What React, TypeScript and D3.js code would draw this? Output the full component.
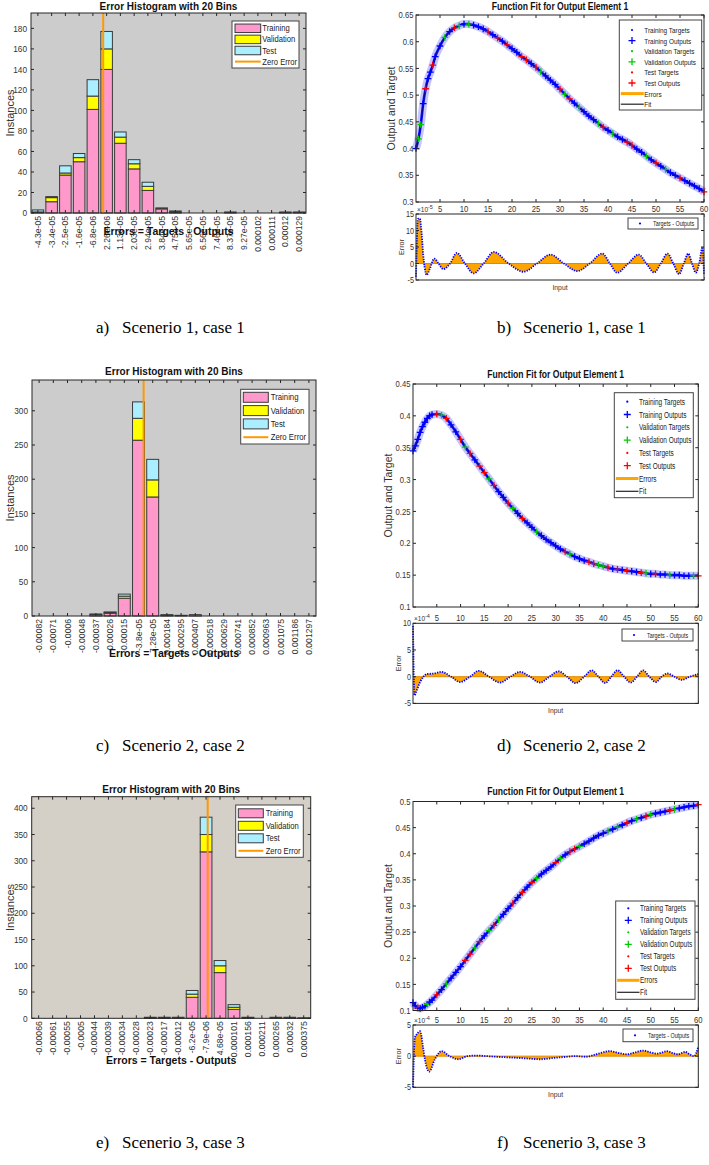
import React from 'react';
import * as d3 from 'd3';

const SANS = '"Liberation Sans", Arial, Helvetica, sans-serif';
const SERIF = '"Liberation Serif", "Times New Roman", serif';

// ---------- Histogram data ----------
const histA_labels = ['-4.3e-05','-3.4e-05','-2.5e-05','-1.6e-05','-6.8e-06','2.26e-06','1.13e-05','2.03e-05','2.94e-05','3.84e-05','4.75e-05','5.65e-05','6.56e-05','7.46e-05','8.37e-05','9.27e-05','0.000102','0.000111','0.00012','0.000129'];
const histA_train = [1,11,37,50,101,140,68,43,22,4,1,0,0,0,1,0,0,0,1,1];
const histA_val =   [0,4,2,4,13,20,6,5,4,1,0,0,0,0,0,0,0,0,0,0];
const histA_test =  [2,1,7,4,16,17,5,4,4,0,1,0,0,0,0,0,0,0,0,0];
const histA_yticks = [0,20,40,60,80,100,120,140,160,180];

const histC_labels = ['-0.00082','-0.00071','-0.0006','-0.00048','-0.00037','-0.00026','-0.00015','-3.8e-05','7.28e-05','0.000184','0.000295','0.000407','0.000518','0.000629','0.000741','0.000852','0.000963','0.001075','0.001186','0.001297'];
const histC_train = [0,0,0,0,2,4,26,257,174,1,1,2,0,0,0,0,0,0,0,0];
const histC_val =   [0,0,0,0,0,1,3,32,25,0,0,0,0,0,0,0,0,0,0,0];
const histC_test =  [0,0,0,0,1,1,3,24,30,1,0,0,0,0,0,0,0,0,0,0];
const histC_yticks = [0,50,100,150,200,250,300];

const histE_labels = ['-0.00066','-0.00061','-0.00055','-0.0005','-0.00044','-0.00039','-0.00034','-0.00028','-0.00023','-0.00017','-0.00012','-6.2e-05','-7.9e-06','4.68e-05','0.000101','0.000156','0.000211','0.000265','0.00032','0.000375'];
const histE_train = [0,0,0,0,0,0,0,0,1,1,2,40,317,87,17,1,0,2,2,1];
const histE_val =   [0,0,0,0,0,0,0,0,0,1,0,6,33,13,4,1,0,0,0,0];
const histE_test =  [0,0,0,0,0,0,0,0,1,0,0,7,33,10,5,0,0,0,0,0];
const histE_yticks = [0,50,100,150,200,250,300,350,400];

// ---------- Function fit data ----------
const inputX = [0,0.5,1,1.5,2,2.5,3,3.5,4,5,6,7,8,9,10,11,12,13,14,15,16,17,18,19,20,21,22,23,24,25,26,27,28,29,30,31,32,33,34,35,36,37,38,39,40,41,42,43,44,45,46,47,48,49,50,51,52,53,54,55,56,57,58,59,60];
const fitB_y = [0.400,0.418,0.445,0.484,0.512,0.531,0.543,0.556,0.572,0.592,0.608,0.619,0.626,0.630,0.633,0.633,0.631,0.628,0.624,0.619,0.613,0.607,0.601,0.594,0.587,0.580,0.572,0.566,0.559,0.552,0.544,0.536,0.528,0.520,0.511,0.502,0.493,0.485,0.477,0.469,0.461,0.454,0.447,0.440,0.434,0.428,0.422,0.417,0.412,0.406,0.399,0.393,0.386,0.379,0.373,0.367,0.361,0.355,0.350,0.345,0.340,0.335,0.330,0.325,0.319];
const fitD_y = [0.345,0.353,0.363,0.374,0.383,0.390,0.396,0.400,0.402,0.403,0.401,0.396,0.386,0.375,0.363,0.351,0.341,0.331,0.321,0.311,0.301,0.291,0.281,0.272,0.263,0.255,0.247,0.239,0.232,0.225,0.218,0.212,0.206,0.201,0.196,0.191,0.187,0.183,0.179,0.176,0.173,0.171,0.168,0.166,0.164,0.162,0.160,0.159,0.158,0.157,0.156,0.155,0.154,0.153,0.152,0.152,0.151,0.151,0.150,0.150,0.150,0.149,0.149,0.149,0.149];
const fitF_y = [0.115,0.109,0.105,0.104,0.106,0.108,0.112,0.116,0.120,0.130,0.140,0.151,0.162,0.173,0.184,0.196,0.208,0.220,0.232,0.243,0.253,0.263,0.274,0.284,0.295,0.305,0.316,0.326,0.336,0.345,0.353,0.361,0.368,0.375,0.383,0.391,0.398,0.404,0.409,0.414,0.419,0.424,0.430,0.435,0.439,0.443,0.447,0.451,0.455,0.459,0.463,0.466,0.469,0.472,0.475,0.477,0.479,0.481,0.483,0.485,0.487,0.489,0.491,0.492,0.494];

const fitB_valX = [0.5,1,6,9,11,26,31,34,38,41,48,52];
const fitB_testX = [2,3.5,8,15,17,19,22,23,25,30,32,39,44,45,50,55,60];
const fitD_valX = [6,11,16,21,26,33,39,40,49,54,59];
const fitD_testX = [5,7,10,12,14,15,17,20,23,32,37,38,41,43,45,48,51,60];
const fitF_valX = [3,7,13,16,18,26,31,35,41,43,47,50,55];
const fitF_testX = [1,5,11,12,14,17,21,23,25,30,33,34,45,49,54,60];

const fitXTicks = [5,10,15,20,25,30,35,40,45,50,55,60];
const fitB_yticks = [0.3,0.35,0.4,0.45,0.5,0.55,0.6,0.65];
const fitD_yticks = [0.1,0.15,0.2,0.25,0.3,0.35,0.4,0.45];
const fitF_yticks = [0.1,0.15,0.2,0.25,0.3,0.35,0.4,0.45,0.5];

// errors (input, error in units of the axis exponent)
const errB = [[0,-4],[0.4,13.5],[0.8,13.6],[1.2,8.6],[1.5,2.7],[1.8,-1.2],[2.2,-3.5],[2.9,-1.5],[3.8,1.5],[4.7,0],[5.7,-1.7],[7.1,0],[8.5,3.2],[10.2,0],[12.0,-3],[14.1,0],[16.2,3.5],[19.3,0],[22.4,-2.5],[25.2,0],[28.0,2.7],[30.8,0],[33.6,-2.3],[36.2,0],[38.8,3],[40.4,0],[41.9,-2.8],[44.2,0],[46.4,2.7],[48.0,0],[49.6,-2.7],[51.0,0],[52.4,3],[53.6,0],[54.8,-3.2],[55.8,0],[56.7,3],[57.5,0],[58.3,-2.8],[59.0,0],[59.7,5],[60,-3.5]];
const errD = [[0,9.5],[0.3,-3.5],[0.8,-2.5],[1.5,-1.0],[2.2,0],[2.9,0.5],[4.5,0.6],[6.0,0.9],[8.0,0],[9.9,-1.0],[12.0,0],[13.8,1.1],[16.0,0],[18.3,-1.1],[20.5,0],[22.5,0.9],[24.6,0],[26.7,-1.1],[28.7,0],[30.6,1.0],[32.4,0],[34.2,-1.2],[36.0,0],[37.6,1.2],[39.0,0],[40.4,-1.2],[41.7,0],[43.0,1.2],[44.4,0],[45.8,-1.1],[47.1,0],[48.4,1.2],[49.7,0],[51.1,-1.0],[52.3,0],[53.5,0.6],[55.0,0],[56.5,-0.6],[58.2,0],[60,0.5]];
const errF = [[0,-5],[0.4,3],[0.8,3.5],[1.5,4.0],[2.1,1.5],[2.5,-0.5],[3.4,-2.5],[4.6,-0.5],[6.0,0.8],[7.7,0],[9.5,-0.5],[11.5,0],[13.4,0.1],[15.5,0],[17.6,-0.1],[20,-0.2],[22.5,-0.3],[24.5,-0.4],[26.7,-0.5],[29.5,-0.3],[32.3,-0.1],[34,0],[36.5,-0.1],[38.5,0.3],[41.4,0.8],[43.3,0.5],[45,0.3],[46.7,0.6],[48.4,0.9],[50,0.6],[51.3,0.4],[52.4,0.6],[53.4,0.8],[54.6,0.5],[55.8,0.3],[56.5,0.5],[57.2,0.7],[58.2,0.3],[59.1,0],[60,1.5]];
const errB_ticks = [-5,0,5,10,15];
const errD_ticks = [-5,0,5,10];
const errF_ticks = [-5,0,5];

const COL = { train: '#FF99CC', val: '#FFFF00', test: '#AAEEFF', zero: '#FF9900', edge: '#3a3a3a', axis: '#262626' };
const MARK = { blue: '#0000FF', green: '#00CC00', red: '#FF0000', orange: '#FFA500' };

function Txt({ x, y, s = 1, anchor = 'start', size = 9, weight = 'normal', fill = '#262626', rot = 0, family = SANS, children }: any) {
  return (
    <text transform={`translate(${x},${y})${rot ? ` rotate(${rot})` : ''}${s !== 1 ? ` scale(${s},1)` : ''}`}
      textAnchor={anchor} fontSize={size} fontWeight={weight} fill={fill} fontFamily={family}>{children}</text>
  );
}

function Hist({ box, bg, labels, train, val, test, yMax, yTicks, titleY, xlabY, leg, ylabX }: any) {
  const n = labels.length;
  const x = d3.scaleLinear().domain([0, n]).range([box.x0, box.x1]);
  const y = d3.scaleLinear().domain([0, yMax]).range([box.y1, box.y0]);
  const bw = (x(1) - x(0)) * 0.84;
  const c0 = +labels[0];
  const w = (+labels[n - 1] - c0) / (n - 1);
  const zx = x((0 - c0) / w + 0.5);
  const cx = (box.x0 + box.x1) / 2;
  const tl = 3;
  const legRows = [
    { t: 'Training', c: COL.train },
    { t: 'Validation', c: COL.val },
    { t: 'Test', c: COL.test },
    { t: 'Zero Error', c: null },
  ];
  return (
    <g>
      <rect x={box.x0} y={box.y0} width={box.x1 - box.x0} height={box.y1 - box.y0} fill={bg} />
      {labels.map((_: string, i: number) => {
        const segs = [
          [0, train[i], COL.train],
          [train[i], train[i] + val[i], COL.val],
          [train[i] + val[i], train[i] + val[i] + test[i], COL.test],
        ];
        const xc = x(i + 0.5);
        return (
          <g key={i}>
            {segs.filter(s => (s[1] as number) > (s[0] as number)).map((s, k) => (
              <rect key={k} x={xc - bw / 2} y={y(s[1] as number)} width={bw} height={y(s[0] as number) - y(s[1] as number)}
                fill={s[2] as string} stroke={COL.edge} strokeWidth={1} />
            ))}
          </g>
        );
      })}
      <line x1={zx} x2={zx} y1={box.y0} y2={box.y1} stroke={COL.zero} strokeWidth={2} />
      <rect x={box.x0} y={box.y0} width={box.x1 - box.x0} height={box.y1 - box.y0} fill="none" stroke={COL.axis} strokeWidth={1} />
      {labels.map((_: string, i: number) => (
        <g key={'t' + i}>
          <line x1={x(i + 0.5)} x2={x(i + 0.5)} y1={box.y1} y2={box.y1 - tl} stroke={COL.axis} />
          <line x1={x(i + 0.5)} x2={x(i + 0.5)} y1={box.y0} y2={box.y0 + tl} stroke={COL.axis} />
        </g>
      ))}
      {yTicks.map((t: number) => (
        <g key={'y' + t}>
          <line x1={box.x0} x2={box.x0 + tl} y1={y(t)} y2={y(t)} stroke={COL.axis} />
          <line x1={box.x1} x2={box.x1 - tl} y1={y(t)} y2={y(t)} stroke={COL.axis} />
          <Txt x={box.x0 - 4} y={y(t) + 3.2} anchor="end" size={9} s={0.92} fill="#333">{t}</Txt>
        </g>
      ))}
      {labels.map((l: string, i: number) => (
        <Txt key={'l' + i} x={x(i + 0.5) + 3} y={box.y1 + 3} rot={-90} anchor="end" size={8.6} fill="#333">{l}</Txt>
      ))}
      <Txt x={ylabX} y={(box.y0 + box.y1) / 2} rot={-90} anchor="middle" size={11} fill="#333">Instances</Txt>
      <Txt x={cx} y={titleY} anchor="middle" size={10} weight="bold" fill="#111">Error Histogram with 20 Bins</Txt>
      <Txt x={cx} y={xlabY} anchor="middle" size={10.5} weight="bold" fill="#111">Errors = Targets - Outputs</Txt>
      <rect x={leg.x} y={leg.y} width={leg.w} height={leg.h} fill="#fff" stroke="#444" strokeWidth={1} />
      {legRows.map((r, k) => {
        const ry = leg.r0 + k * leg.dy;
        return (
          <g key={'lg' + k}>
            {r.c ? (
              <rect x={leg.sx} y={ry - leg.sh / 2} width={leg.sw} height={leg.sh} fill={r.c} stroke={COL.edge} strokeWidth={1} />
            ) : (
              <line x1={leg.sx} x2={leg.sx + leg.sw} y1={ry} y2={ry} stroke={COL.zero} strokeWidth={2} />
            )}
            <Txt x={leg.tx} y={ry + 3} size={leg.fs} s={leg.sc} fill="#222">{r.t}</Txt>
          </g>
        );
      })}
    </g>
  );
}

function plusPath(cx: number, cy: number, s: number) {
  return `M${cx - s},${cy}h${2 * s}M${cx},${cy - s}v${2 * s}`;
}

function Fit({ top, bot, xs, ys, valX, testX, err, yDom, yTicks, eDom, eTicks, expo, titleY, leg, low }: any) {
  const x = d3.scaleLinear().domain([0, 60]).range([top.x0, top.x1]);
  const y = d3.scaleLinear().domain(yDom).range([top.y1, top.y0]);
  const ye = d3.scaleLinear().domain(eDom).range([bot.y1, bot.y0]);
  const idx = d3.range(xs.length);
  const fitLine = d3.line<number>().x(i => x(xs[i])).y(i => y(ys[i])).curve(d3.curveMonotoneX)(idx) || '';
  const area = d3.area<number[]>().x(d => x(d[0])).y0(ye(0)).y1(d => ye(d[1])).curve(d3.curveMonotoneX)(err) || '';
  const eLine = d3.line<number[]>().x(d => x(d[0])).y(d => ye(d[1])).curve(d3.curveMonotoneX)(err) || '';
  const colorOf = (v: number) => (valX.includes(v) ? MARK.green : testX.includes(v) ? MARK.red : MARK.blue);
  const tl = 3;
  const cx = (top.x0 + top.x1) / 2;
  const entries = [
    { t: 'Training Targets', k: 'dot', c: MARK.blue },
    { t: 'Training Outputs', k: 'plus', c: MARK.blue },
    { t: 'Validation Targets', k: 'dot', c: MARK.green },
    { t: 'Validation Outputs', k: 'plus', c: MARK.green },
    { t: 'Test Targets', k: 'dot', c: MARK.red },
    { t: 'Test Outputs', k: 'plus', c: MARK.red },
    { t: 'Errors', k: 'line', c: MARK.orange, w: 3 },
    { t: 'Fit', k: 'line', c: '#222', w: 1.2 },
  ];
  const fmt = (v: number) => String(+v.toFixed(2));
  return (
    <g>
      <rect x={top.x0} y={top.y0} width={top.x1 - top.x0} height={top.y1 - top.y0} fill="#fff" />
      <path d={fitLine} fill="none" stroke="#7f7fff" strokeOpacity={0.45} strokeWidth={8} />
      <path d={fitLine} fill="none" stroke="#1010ff" strokeWidth={2.6} />
      <path d={fitLine} fill="none" stroke="#000" strokeWidth={0.8} strokeOpacity={0.6} />
      {idx.map(i => (
        <path key={i} d={plusPath(x(xs[i]), y(ys[i]), 3.3)} stroke={colorOf(xs[i])} strokeWidth={1.3} />
      ))}
      <rect x={top.x0} y={top.y0} width={top.x1 - top.x0} height={top.y1 - top.y0} fill="none" stroke={COL.axis} />
      {fitXTicks.map(t => (
        <g key={'xt' + t}>
          <line x1={x(t)} x2={x(t)} y1={top.y1} y2={top.y1 - tl} stroke={COL.axis} />
          <line x1={x(t)} x2={x(t)} y1={top.y0} y2={top.y0 + tl} stroke={COL.axis} />
          <line x1={x(t)} x2={x(t)} y1={bot.y1} y2={bot.y1 - tl} stroke={COL.axis} />
          <line x1={x(t)} x2={x(t)} y1={bot.y0} y2={bot.y0 + tl} stroke={COL.axis} />
          <Txt x={x(t)} y={bot.y0 - 2.5} anchor="middle" size={9} s={0.85} fill="#333">{t}</Txt>
        </g>
      ))}
      {yTicks.map((t: number) => (
        <g key={'yt' + t}>
          <line x1={top.x0} x2={top.x0 + tl} y1={y(t)} y2={y(t)} stroke={COL.axis} />
          <line x1={top.x1} x2={top.x1 - tl} y1={y(t)} y2={y(t)} stroke={COL.axis} />
          <Txt x={top.x0 - 2.5} y={y(t) + 3.2} anchor="end" size={9} s={0.85} fill="#333">{fmt(t)}</Txt>
        </g>
      ))}
      <Txt x={top.x0 - 21} y={(top.y0 + top.y1) / 2} rot={-90} anchor="middle" size={10.5} fill="#333">Output and Target</Txt>
      <Txt x={cx} y={titleY} anchor="middle" size={10.5} s={0.82} weight="bold" fill="#111">Function Fit for Output Element 1</Txt>
      <rect x={leg.x} y={leg.y} width={leg.w} height={leg.h} fill="#fff" stroke="#444" />
      {entries.map((e, k) => {
        const ry = leg.r0 + k * leg.dy;
        return (
          <g key={'le' + k}>
            {e.k === 'dot' && <circle cx={leg.mx} cy={ry} r={1.1} fill={e.c} />}
            {e.k === 'plus' && <path d={plusPath(leg.mx, ry, 3.5)} stroke={e.c} strokeWidth={1.3} />}
            {e.k === 'line' && <line x1={leg.x + 1.5} x2={leg.tx - 0.5} y1={ry} y2={ry} stroke={e.c} strokeWidth={e.w} />}
            <Txt x={leg.tx} y={ry + 3} size={leg.fs} s={leg.sc} fill="#222">{e.t}</Txt>
          </g>
        );
      })}
      <rect x={bot.x0} y={bot.y0} width={bot.x1 - bot.x0} height={bot.y1 - bot.y0} fill="#fff" />
      <path d={area} fill={MARK.orange} stroke="none" />
      <line x1={bot.x0} x2={bot.x1} y1={ye(0)} y2={ye(0)} stroke="#E08A00" strokeWidth={1} />
      <path d={eLine} fill="none" stroke={MARK.blue} strokeWidth={1.8} strokeDasharray="1.3 1.2" />
      <rect x={bot.x0} y={bot.y0} width={bot.x1 - bot.x0} height={bot.y1 - bot.y0} fill="none" stroke={COL.axis} />
      {eTicks.map((t: number) => (
        <g key={'et' + t}>
          <line x1={bot.x0} x2={bot.x0 + tl} y1={ye(t)} y2={ye(t)} stroke={COL.axis} />
          <line x1={bot.x1} x2={bot.x1 - tl} y1={ye(t)} y2={ye(t)} stroke={COL.axis} />
          <Txt x={bot.x0 - 2} y={ye(t) + 3} anchor="end" size={8.5} s={0.85} fill="#333">{t}</Txt>
        </g>
      ))}
      <text x={bot.x0 + 1} y={bot.y0 - 2.5} fontSize={6.5} fontFamily={SANS} fill="#333">×10<tspan dy={-3} fontSize={5.5}>{expo}</tspan></text>
      <Txt x={bot.x0 - 12} y={(bot.y0 + bot.y1) / 2} rot={-90} anchor="middle" size={8} s={0.9} fill="#333">Error</Txt>
      <Txt x={cx} y={bot.y1 + 10} anchor="middle" size={8} s={0.85} fill="#333">Input</Txt>
      <rect x={low.x} y={low.y} width={low.w} height={low.h} fill="#fff" stroke="#444" />
      <circle cx={low.x + 12} cy={low.y + low.h / 2} r={1.1} fill={MARK.blue} />
      <Txt x={low.x + 25} y={low.y + low.h / 2 + 2.8} size={7.5} s={0.72} fill="#222">Targets - Outputs</Txt>
    </g>
  );
}

function Caption({ x, y, tag, text }: any) {
  return (
    <g>
      <text x={x} y={y} fontFamily={SERIF} fontSize={17} fill="#000">{tag}</text>
      <text x={x + 26} y={y} fontFamily={SERIF} fontSize={17} fill="#000">{text}</text>
    </g>
  );
}

export default function App() {
  return (
    <svg width={709} height={1165} viewBox="0 0 709 1165" style={{ position: 'absolute', left: 0, top: 0, background: '#fff' }}>
      <rect x={0} y={0} width={709} height={1165} fill="#fff" />
      <Hist box={{ x0: 31, y0: 13, x1: 306, y1: 213 }} bg="#CCCCCC" labels={histA_labels} train={histA_train} val={histA_val} test={histA_test}
        yMax={195} yTicks={histA_yticks} titleY={9.5} xlabY={235} ylabX={14}
        leg={{ x: 232, y: 21, w: 67, h: 47, r0: 28.3, dy: 11.1, sx: 235, sw: 25.7, sh: 8.5, tx: 262.3, fs: 8.5, sc: 0.9 }} />
      <Hist box={{ x0: 32, y0: 380, x1: 316, y1: 616 }} bg="#CCCCCC" labels={histC_labels} train={histC_train} val={histC_val} test={histC_test}
        yMax={345} yTicks={histC_yticks} titleY={375} xlabY={657} ylabX={14}
        leg={{ x: 240.7, y: 389.3, w: 68.3, h: 54.7, r0: 397.3, dy: 13.3, sx: 243.3, sw: 25, sh: 10, tx: 270.7, fs: 9.5, sc: 0.82 }} />
      <Hist box={{ x0: 31.7, y0: 796.7, x1: 310.7, y1: 1018.3 }} bg="#D4D0C8" labels={histE_labels} train={histE_train} val={histE_val} test={histE_test}
        yMax={422} yTicks={histE_yticks} titleY={792.5} xlabY={1064} ylabX={14}
        leg={{ x: 235.7, y: 805, w: 67.6, h: 52.3, r0: 813.3, dy: 12.5, sx: 238.3, sw: 25, sh: 9, tx: 265.7, fs: 9, sc: 0.85 }} />

      <Fit top={{ x0: 416, y0: 15, x1: 704, y1: 202 }} bot={{ x0: 416, y0: 214, x1: 704, y1: 280 }}
        xs={inputX} ys={fitB_y} valX={fitB_valX} testX={fitB_testX} err={errB}
        yDom={[0.3, 0.65]} yTicks={fitB_yticks} eDom={[-5, 15]} eTicks={errB_ticks} expo="-5" titleY={10}
        leg={{ x: 619.3, y: 20, w: 82.4, h: 90, mx: 632, tx: 644.3, r0: 30, dy: 10.6, fs: 8, sc: 0.8 }}
        low={{ x: 628, y: 218, w: 70, h: 11 }} />
      <Fit top={{ x0: 413, y0: 384, x1: 698.3, y1: 607 }} bot={{ x0: 413, y0: 623.3, x1: 698.3, y1: 703.4 }}
        xs={inputX} ys={fitD_y} valX={fitD_valX} testX={fitD_testX} err={errD}
        yDom={[0.1, 0.45]} yTicks={fitD_yticks} eDom={[-5, 10]} eTicks={errD_ticks} expo="-4" titleY={378}
        leg={{ x: 614.3, y: 392.7, w: 79, h: 105, mx: 627.3, tx: 639, r0: 401.7, dy: 12.8, fs: 9, sc: 0.72 }}
        low={{ x: 622, y: 629, w: 71, h: 12 }} />
      <Fit top={{ x0: 413, y0: 801.5, x1: 698.3, y1: 1010.5 }} bot={{ x0: 413, y0: 1025, x1: 698.3, y1: 1087.3 }}
        xs={inputX} ys={fitF_y} valX={fitF_valX} testX={fitF_testX} err={errF}
        yDom={[0.1, 0.5]} yTicks={fitF_yticks} eDom={[-5, 5]} eTicks={errF_ticks} expo="-4" titleY={795}
        leg={{ x: 615.7, y: 901, w: 79.3, h: 98.3, mx: 628.3, tx: 640, r0: 908.3, dy: 12.0, fs: 8.5, sc: 0.76 }}
        low={{ x: 623, y: 1029, w: 70, h: 12.7 }} />

      <Caption x={96} y={333} tag="a)" text="Scenerio 1, case 1" />
      <Caption x={497} y={333} tag="b)" text="Scenerio 1, case 1" />
      <Caption x={96} y={751} tag="c)" text="Scenerio 2, case 2" />
      <Caption x={497} y={751} tag="d)" text="Scenerio 2, case 2" />
      <Caption x={96} y={1148} tag="e)" text="Scenerio 3, case 3" />
      <Caption x={497} y={1148} tag="f)" text="Scenerio 3, case 3" />
    </svg>
  );
}
